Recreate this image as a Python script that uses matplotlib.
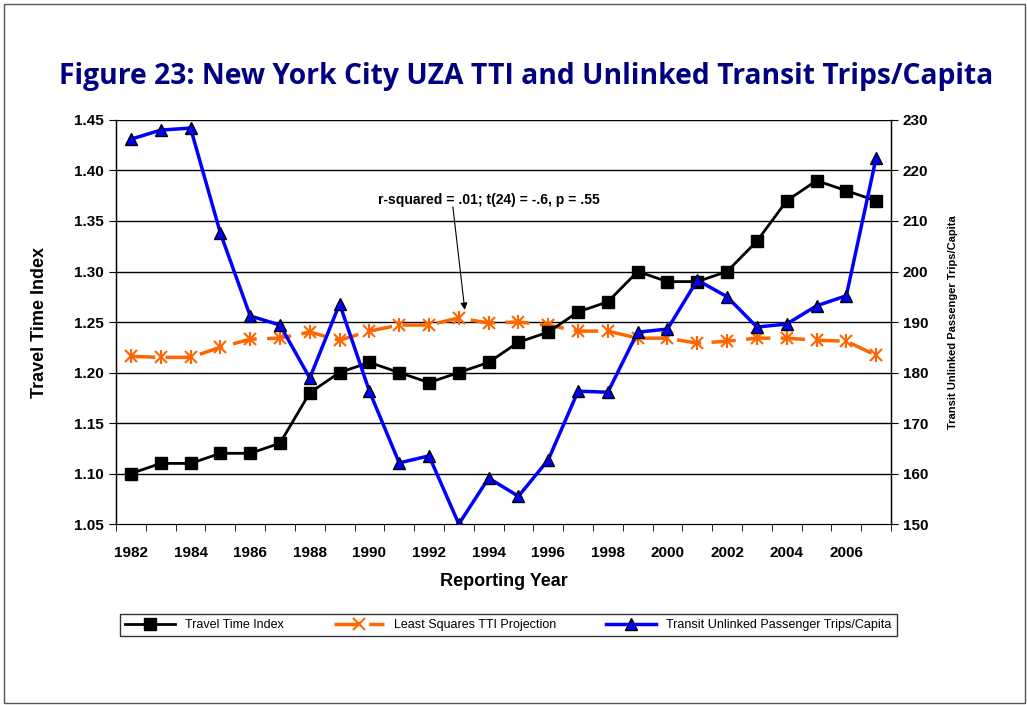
from matplotlib import pyplot as plt
from matplotlib.patches import Rectangle

years = list(range(1982, 2008))
tti = [1.10, 1.11, 1.11, 1.12, 1.12, 1.13, 1.18, 1.20, 1.21, 1.20, 1.19, 1.20, 1.21,
       1.23, 1.24, 1.26, 1.27, 1.30, 1.29, 1.29, 1.30, 1.33, 1.37, 1.39, 1.38, 1.37]
lsq = [1.216, 1.215, 1.215, 1.225, 1.233, 1.234, 1.240, 1.232, 1.241, 1.247, 1.247, 1.254, 1.249,
       1.250, 1.247, 1.241, 1.241, 1.234, 1.234, 1.229, 1.231, 1.234, 1.234, 1.232, 1.231, 1.217]
transit = [226.2, 228.0, 228.4, 207.6, 191.2, 189.4, 178.9, 193.6, 176.3, 162.1, 163.5, 150.0, 159.1,
           155.5, 162.7, 176.3, 176.1, 188.0, 188.6, 198.3, 195.0, 189.0, 189.6, 193.2, 195.2, 222.5]

plt.rcParams['font.family'] = ['Liberation Sans', 'DejaVu Sans']

fig = plt.figure(figsize=(10.27, 7.05), dpi=100)
fig.patches.append(Rectangle((0.004, 0.003), 0.994, 0.992, transform=fig.transFigure,
                             fill=False, edgecolor='#555555', linewidth=1))

ax = fig.add_axes([0.113, 0.2567, 0.7546, 0.5731])
ax2 = ax.twinx()

ax.set_xlim(1981.5, 2007.5)
ax.set_ylim(1.05, 1.45)
ax2.set_ylim(150, 230)
ax.set_yticks([1.05 + 0.05 * i for i in range(9)])
ax2.set_yticks(list(range(150, 231, 10)))
for y in [1.05 + 0.05 * i for i in range(1, 9)]:
    ax.axhline(y, color='black', linewidth=1, zorder=0)

l1, = ax.plot(years, tti, color='black', marker='s', markersize=8, linewidth=2,
              label='Travel Time Index', zorder=3)
l2, = ax.plot(years, lsq, color='#ff6600', marker='x', markersize=8, markeredgewidth=1.5,
              linewidth=2.5, dashes=(7, 3), label='Least Squares TTI Projection', zorder=2)
ax.plot(years, lsq, color='#ff6600', marker='|', markersize=10, markeredgewidth=1.5,
        linestyle='none', zorder=2)
l3, = ax2.plot(years, transit, color='#0000ff', marker='^', markersize=9, markerfacecolor='#0000ff',
               markeredgecolor='black', linewidth=2.5, label='Transit Unlinked Passenger Trips/Capita',
               zorder=4)

ax.set_xticks([1981.5 + i for i in range(27)], minor=True)
ax.set_xticks(list(range(1982, 2008, 2)))
ax.tick_params(axis='x', which='major', length=0, pad=16)
ax.tick_params(axis='x', which='minor', length=5, direction='out')
ax.tick_params(axis='y', length=5, direction='out')
ax2.tick_params(axis='y', length=5, direction='out')
for lab in ax.get_xticklabels() + ax.get_yticklabels() + ax2.get_yticklabels():
    lab.set_fontsize(11)
    lab.set_fontweight('bold')

for a in (ax, ax2):
    a.spines['top'].set_visible(False)
ax.spines['left'].set_linewidth(1)
ax2.spines['right'].set_linewidth(1)

ax.set_xlabel('Reporting Year', fontsize=13, fontweight='bold', labelpad=9)
ax.set_ylabel('Travel Time Index', fontsize=13, fontweight='bold', labelpad=19)
ax2.set_ylabel('Transit Unlinked Passenger Trips/Capita', fontsize=8, fontweight='bold', labelpad=14)

ax.text(1994.0, 1.371, 'r-squared = .01; t(24) = -.6, p = .55', ha='center', va='center',
        fontsize=10, fontweight='bold')
ax.annotate('', xy=(1993.2, 1.262), xytext=(1992.8, 1.364),
            arrowprops=dict(arrowstyle='-|>', color='black', linewidth=0.8, shrinkA=0, shrinkB=0))

fig.text(0.512, 0.892, 'Figure 23: New York City UZA TTI and Unlinked Transit Trips/Capita',
         ha='center', va='center', fontsize=20.3, fontweight='bold', color='#000080',
         family=['Open Sans', 'DejaVu Sans'])

leg = fig.legend(handles=[l1, l2, l3], loc='center', bbox_to_anchor=(0.495, 0.113), ncol=3,
                 frameon=True, fancybox=False, edgecolor='black', fontsize=9,
                 handlelength=4, columnspacing=4, borderpad=0.4)
leg.get_frame().set_linewidth(1)

fig.savefig('out.png', dpi=100)
